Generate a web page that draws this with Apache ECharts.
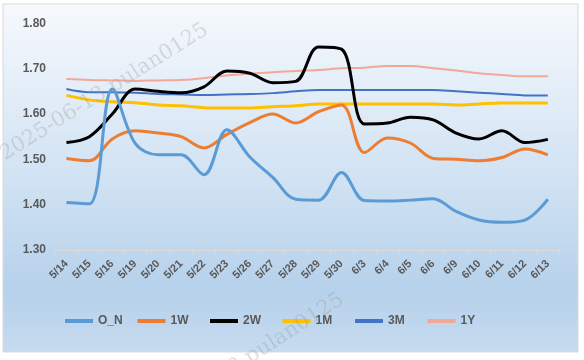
<!DOCTYPE html>
<html><head><meta charset="utf-8">
<script src="https://cdn.jsdelivr.net/npm/echarts@6/dist/echarts.min.js"></script>
<style>html,body{margin:0;padding:0;background:#fff;}#c{width:584px;height:360px;}</style>
</head><body><div id="c"></div>
<script>
const categories = ['5/14','5/15','5/16','5/19','5/20','5/21','5/22','5/23','5/26','5/27','5/28','5/29','5/30','6/3','6/4','6/5','6/6','6/9','6/10','6/11','6/12','6/13'];
const seriesNames = ['O_N','1W','2W','1M','3M','1Y'];
const ON  = [1.405,1.402,1.655,1.535,1.510,1.510,1.466,1.565,1.505,1.460,1.412,1.410,1.471,1.409,1.408,1.410,1.413,1.385,1.366,1.361,1.366,1.412];
const W1  = [1.502,1.497,1.545,1.563,1.558,1.550,1.525,1.555,1.581,1.600,1.580,1.605,1.620,1.515,1.547,1.536,1.502,1.500,1.497,1.504,1.523,1.510];
const W2  = [1.537,1.550,1.600,1.655,1.650,1.647,1.660,1.695,1.690,1.669,1.672,1.748,1.743,1.578,1.580,1.593,1.587,1.558,1.545,1.563,1.537,1.544];
const M1  = [1.641,1.631,1.627,1.625,1.620,1.618,1.614,1.613,1.613,1.616,1.618,1.622,1.622,1.622,1.622,1.622,1.622,1.620,1.622,1.624,1.624,1.624];
const M3  = [1.655,1.648,1.648,1.647,1.644,1.643,1.642,1.643,1.644,1.646,1.650,1.653,1.653,1.653,1.653,1.653,1.653,1.650,1.647,1.644,1.641,1.641];
const Y1  = [1.677,1.675,1.674,1.673,1.674,1.675,1.679,1.685,1.689,1.692,1.695,1.697,1.701,1.702,1.706,1.706,1.701,1.696,1.690,1.686,1.683,1.683];
const yTicks = [1.30,1.40,1.50,1.60,1.70,1.80];

const colors = ['#5B9BD5','#ED7D31','#000000','#FFC000','#4472C4','#F2A896'];
const widths = [3,3,3,3,2,2];
const dataSets = [ON,W1,W2,M1,M3,Y1];

const chart = echarts.init(document.getElementById('c'), null, {renderer:'canvas'});
const lblFont = {color:'#595959', fontWeight:'bold', fontSize:11, fontFamily:'Liberation Sans, Arial, sans-serif'};
const deg = Math.PI/180;
const wmStyle = {font:'21px "DejaVu Serif", serif', fill:'rgba(150,150,150,0.3)', textVerticalAlign:'middle', text:'2025-06-13 pulan0125'};
chart.setOption({
  animation:false,
  graphic:[
    {type:'rect', z:-10, shape:{x:3,y:4,width:575,height:348},
     style:{stroke:'#d9d9d9', lineWidth:1,
       fill:new echarts.graphic.LinearGradient(0,0,0,1,[
         {offset:0,color:'#f6f9fd'},{offset:0.55,color:'#cde0f2'},{offset:0.82,color:'#b6d1eb'},{offset:1,color:'#c6dbef'}])}},
    {type:'text', z:50, x:2, y:156, rotation:32*deg, style:Object.assign({}, wmStyle)},
    {type:'text', z:50, x:140, y:429, rotation:33*deg, style:Object.assign({}, wmStyle)}
  ],
  grid:{left:55, right:24.7, top:23.3, bottom:110, containLabel:false},
  legend:seriesNames.map((n,i)=>({
    data:[n], left:60+72.5*i, top:310, itemWidth:28, itemHeight:4, icon:'rect',
    textStyle:Object.assign({}, lblFont, {fontSize:12})
  })),
  xAxis:{
    type:'category', data:categories, boundaryGap:true,
    axisLine:{lineStyle:{color:'#d9d9d9', width:1}},
    axisTick:{show:true, length:5, lineStyle:{color:'#d9d9d9'}},
    axisLabel:Object.assign({rotate:45, margin:12, interval:0}, lblFont),
    splitLine:{show:false}
  },
  yAxis:{
    type:'value', min:yTicks[0], max:yTicks[yTicks.length-1], interval:0.1,
    axisLine:{show:false}, axisTick:{show:false}, splitLine:{show:false},
    axisLabel:Object.assign({margin:9, formatter:v=>v.toFixed(2)}, lblFont, {fontSize:12})
  },
  series:seriesNames.map((n,i)=>({
    name:n, type:'line', data:dataSets[i], smooth:0.35, showSymbol:false, symbol:'none',
    lineStyle:{color:colors[i], width:widths[i]}, itemStyle:{color:colors[i]}, z:10-i
  }))
});
</script></body></html>
